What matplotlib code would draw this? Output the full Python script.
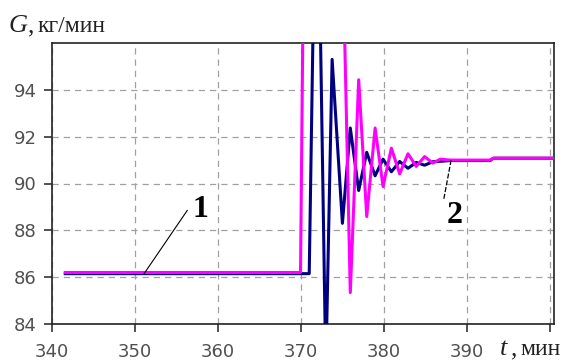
import matplotlib
matplotlib.use("Agg")
import matplotlib.pyplot as plt

# curve 1 (navy)
t_navy = [341.6, 371.0, 371.9, 373.0, 373.76, 375.0, 375.95, 376.96, 377.93, 378.94,
          379.9, 380.9, 381.9, 382.9, 383.9, 384.9, 385.9, 386.9, 388.0, 392.8, 393.2, 400.5]
g_navy = [86.15, 86.15, 106.5, 82.0, 95.3, 88.3, 92.37, 89.7, 91.33, 90.33,
          91.04, 90.5, 90.94, 90.65, 90.9, 90.78, 90.93, 90.95, 90.98, 90.98, 91.08, 91.08]

# curve 2 (magenta)
t_mag = [341.6, 369.95, 371.0, 373.0, 375.0, 375.95, 376.96, 377.93, 378.94, 379.9,
         380.9, 381.9, 382.9, 383.9, 384.9, 385.9, 386.8, 388.0, 392.8, 393.2, 400.5]
g_mag = [86.2, 86.2, 125.0, 115.0, 100.6, 85.34, 94.43, 88.59, 92.37, 89.87,
         91.51, 90.41, 91.27, 90.73, 91.15, 90.87, 91.04, 91.0, 91.0, 91.08, 91.08]

x_ticks = [340, 350, 360, 370, 380, 390, 400]
x_labels = ['340', '350', '360', '370', '380', '390', '']
y_ticks = [84, 86, 88, 90, 92, 94]

COLOR_NAVY = '#000080'
COLOR_MAG = '#ff00ff'

fig = plt.figure(figsize=(5.71, 3.63), dpi=100)
ax = fig.add_axes([52 / 571, 39 / 363, 502 / 571, 281 / 363])

ax.plot(t_navy, g_navy, color=COLOR_NAVY, linewidth=2.2, zorder=3)
ax.plot(t_mag, g_mag, color=COLOR_MAG, linewidth=2.2, zorder=4)

ax.set_xlim(340, 400.5)
ax.set_ylim(84, 96)
ax.set_xticks(x_ticks)
ax.set_xticklabels(x_labels)
ax.set_yticks(y_ticks)

ax.grid(True, color='#a0a0a0', linestyle=(0, (5, 4)), linewidth=0.9)
ax.set_axisbelow(True)

for s in ax.spines.values():
    s.set_linewidth(1.2)
    s.set_color('#222222')

ax.tick_params(direction='out', length=6, width=1.1, color='#222222',
               labelsize=13, labelcolor='#505050')
ax.tick_params(axis='x', pad=8)
ax.tick_params(axis='y', pad=5)
for lab in ax.get_xticklabels() + ax.get_yticklabels():
    lab.set_family('DejaVu Sans')

# leaders and curve numbers
ax.plot([351.1, 356.3], [86.15, 88.85], color='black', linewidth=0.8, zorder=5)
ax.text(357.9, 88.9, '1', family='Liberation Serif', fontweight='bold',
        fontsize=23, ha='center', va='center', zorder=6)
ax.plot([388.1, 387.2], [91.0, 89.3], color='black', linewidth=0.9,
        linestyle=(0, (4, 1.5)), zorder=5)
ax.text(388.5, 88.65, '2', family='Liberation Serif', fontweight='bold',
        fontsize=23, ha='center', va='center', zorder=6)

# axis labels
fig.text(9 / 571, 1 - 32 / 363, 'G', family='Liberation Serif', style='italic',
         fontsize=19, ha='left', va='baseline', color='#222222')
fig.text(28 / 571, 1 - 32 / 363, ',', family='Liberation Serif',
         fontsize=18, ha='left', va='baseline', color='#222222')
fig.text(38 / 571, 1 - 32 / 363, 'кг/мин', family='Liberation Serif',
         fontsize=17, ha='left', va='baseline', color='#222222')
fig.text(500 / 571, 1 - 355 / 363, 't', family='Liberation Serif', style='italic',
         fontsize=19, ha='left', va='baseline', color='#222222')
fig.text(511 / 571, 1 - 355 / 363, ',', family='Liberation Serif',
         fontsize=18, ha='left', va='baseline', color='#222222')
fig.text(520 / 571, 1 - 355 / 363, 'мин', family='Liberation Serif',
         fontsize=17, ha='left', va='baseline', color='#222222')

fig.savefig('out.png', dpi=100, facecolor='white')
